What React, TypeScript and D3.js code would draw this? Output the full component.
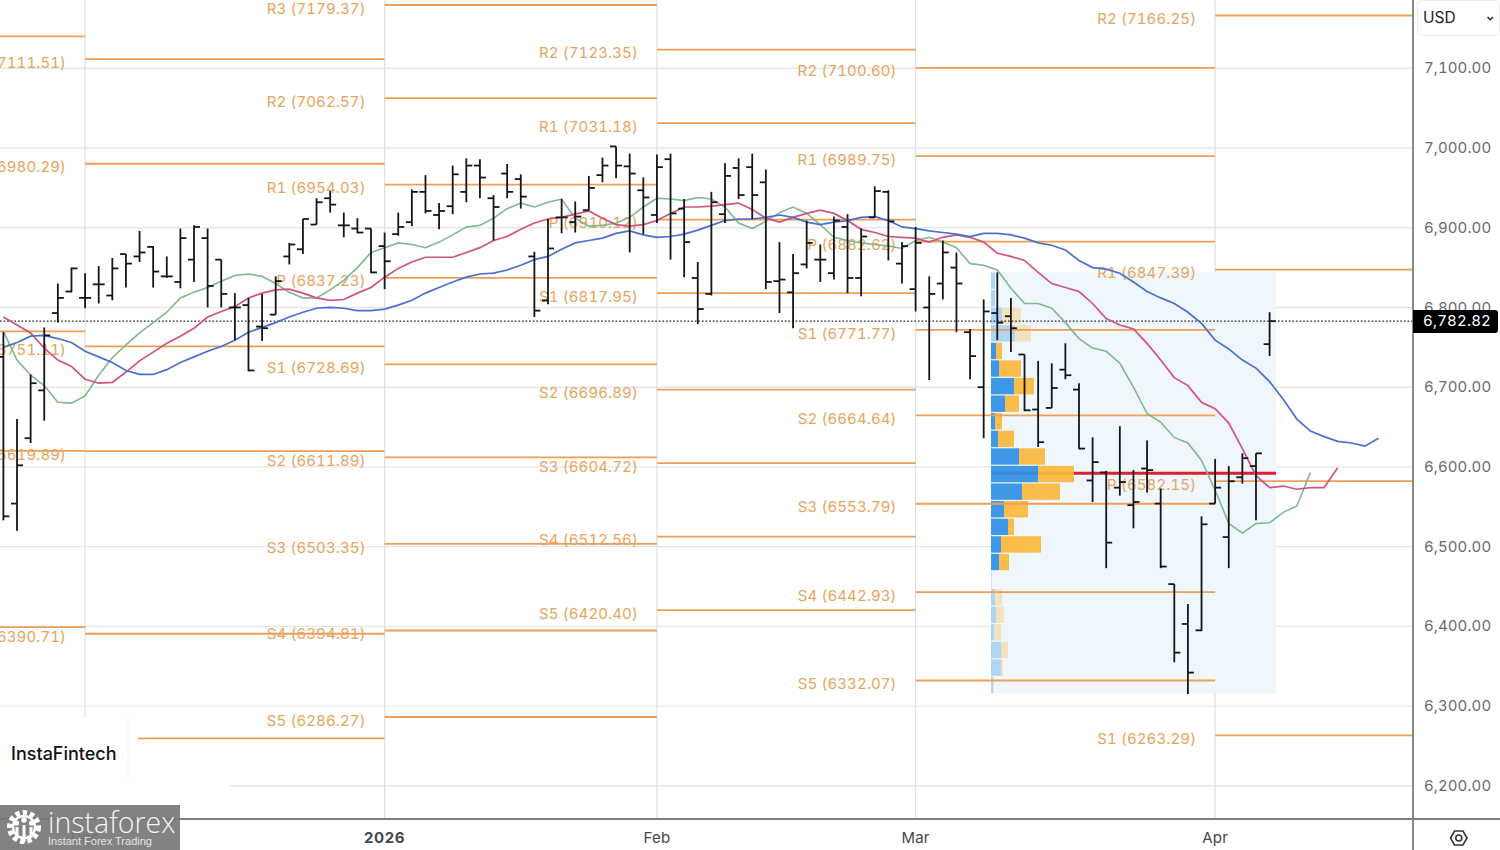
import * as d3 from "d3"

// OHLC, one entry per trading day
const highs = [6769,6660,6716,6775,6830,6850,6843,6852,6862,6867,6896,6877,6864,6899,6903,6899,6860,6818,6812,6817,6839,6881,6911,6937,6946,6919,6912,6899,6894,6919,6948,6966,6931,6978,6987,6986,6941,6980,6967,6870,6911,6936,6933,6965,6988,7002,6993,6963,6992,6993,6936,6857,6945,6981,6987,6993,6973,6882,6867,6909,6879,6914,6917,6899,6952,6947,6882,6901,6839,6884,6869,6773,6810,6844,6812,6741,6733,6730,6755,6705,6637,6595,6651,6596,6633,6573,6453,6428,6538,6610,6601,6617,6617,6794]
const lows = [6533,6520,6630,6658,6781,6819,6799,6805,6809,6825,6857,6825,6837,6824,6832,6800,6800,6759,6720,6758,6791,6854,6867,6904,6919,6888,6893,6843,6823,6890,6902,6918,6898,6917,6932,6937,6884,6937,6924,6788,6804,6893,6894,6922,6957,6962,6869,6892,6906,6860,6838,6779,6815,6906,6936,6911,6823,6793,6774,6849,6832,6835,6818,6814,6913,6859,6830,6795,6709,6810,6769,6710,6636,6759,6744,6670,6625,6674,6710,6622,6556,6473,6564,6523,6568,6473,6355,6315,6394,6554,6473,6579,6533,6739]
const opens = [6738,6554,6636,6696,6793,6820,6812,6829,6815,6867,6864,6876,6839,6832,6860,6887,6860,6800,6803,6776,6791,6864,6873,6904,6937,6903,6899,6899,6877,6892,6907,6945,6916,6927,6945,6978,6937,6968,6961,6864,6809,6913,6907,6922,6966,7002,6977,6947,6916,6986,6924,6837,6817,6917,6975,6976,6957,6833,6819,6854,6860,6843,6901,6837,6913,6945,6855,6823,6800,6830,6850,6769,6700,6793,6789,6741,6672,6674,6722,6697,6583,6593,6574,6552,6598,6554,6453,6403,6395,6554,6512,6587,6601,6754]
const closes = [6538,6602,6705,6765,6812,6849,6812,6829,6849,6855,6869,6845,6839,6887,6901,6827,6817,6800,6721,6774,6833,6879,6911,6932,6929,6903,6894,6844,6858,6901,6945,6921,6921,6967,6978,6963,6926,6945,6939,6796,6874,6913,6914,6950,6978,6978,6968,6938,6976,6918,6882,6798,6932,6965,6941,6941,6832,6835,6843,6881,6860,6909,6837,6889,6946,6908,6877,6881,6817,6869,6830,6739,6795,6781,6774,6671,6631,6699,6715,6623,6606,6505,6581,6556,6596,6475,6367,6342,6528,6574,6582,6611,6617,6782.82]

// moving averages, read per bar
const greenMa = [6770,6734,6715,6702,6681,6680,6689,6715,6737,6753,6768,6781,6794,6812,6819,6825,6833,6840,6842,6839,6830,6819,6812,6812,6822,6834,6850,6869,6875,6881,6879,6875,6882,6891,6901,6903,6912,6924,6931,6926,6932,6936,6912,6902,6903,6906,6913,6926,6937,6936,6934,6938,6936,6926,6906,6899,6908,6919,6926,6918,6904,6888,6884,6881,6879,6877,6874,6884,6888,6882,6875,6855,6853,6847,6824,6805,6805,6799,6781,6761,6749,6745,6730,6700,6667,6656,6637,6630,6608,6571,6529,6517,6529,6530,6543,6551,6593]
const redMa = [6788,6778,6768,6749,6734,6726,6710,6705,6706,6719,6733,6744,6755,6764,6774,6788,6795,6801,6812,6818,6822,6823,6818,6812,6809,6810,6818,6825,6838,6849,6857,6863,6863,6863,6869,6875,6884,6889,6898,6906,6911,6913,6917,6921,6912,6904,6902,6904,6909,6918,6926,6926,6927,6929,6931,6923,6912,6907,6913,6918,6922,6918,6909,6898,6894,6889,6888,6887,6882,6888,6891,6888,6882,6868,6864,6859,6844,6830,6825,6820,6805,6786,6778,6773,6755,6734,6712,6702,6681,6673,6655,6623,6589,6574,6576,6572,6574,6574,6599]
const blueMa = [6750,6756,6764,6765,6761,6756,6745,6738,6731,6721,6716,6716,6722,6731,6738,6745,6751,6759,6769,6775,6781,6788,6794,6799,6800,6799,6796,6796,6798,6803,6809,6818,6825,6832,6838,6842,6843,6847,6853,6860,6864,6873,6881,6884,6887,6893,6896,6891,6888,6889,6892,6897,6903,6909,6911,6911,6913,6916,6913,6907,6904,6907,6909,6913,6914,6909,6901,6899,6896,6894,6892,6889,6893,6893,6891,6887,6881,6878,6872,6859,6850,6848,6843,6832,6820,6812,6805,6794,6780,6759,6748,6734,6724,6707,6685,6660,6645,6638,6632,6630,6626,6636]

// monthly pivot levels
const novLevels = [7140, 6770, 6620, 6399]
const decLevels: [string, number][] = [["R2",7111.51],["R1",6980.29],["P",6751.11],["S1",6619.89],["S2",6390.71],["S3",6259.49]]
const janLevels: [string, number][] = [["R3",7179.37],["R2",7062.57],["R1",6954.03],["P",6837.23],["S1",6728.69],["S2",6611.89],["S3",6503.35],["S4",6394.81],["S5",6286.27]]
const febLevels: [string, number][] = [["R2",7123.35],["R1",7031.18],["P",6910.12],["S1",6817.95],["S2",6696.89],["S3",6604.72],["S4",6512.56],["S5",6420.40]]
const marLevels: [string, number][] = [["R2",7100.60],["R1",6989.75],["P",6882.62],["S1",6771.77],["S2",6664.64],["S3",6553.79],["S4",6442.93],["S5",6332.07]]
const aprLevels: [string, number][] = [["R2",7166.25],["R1",6847.39],["P",6582.15],["S1",6263.29]]

// volume profile, top row first
const profileTop = 6844
const profileBottom = 6316
const upVolume = [4,4,11,24,5,8,23,14,4,7,28,47,31,13,17,10,8,0.5,4,5,3,10,10,2]
const downVolume = [0,0,19,16,6,22,20,14,7,16,26,36,38,24,6,40,10,0,7,8,7,7,2,0.5]
const valueAreaRows = [4, 16]
const pocPrice = 6592

const priceTicks = [7100,7000,6900,6800,6700,6600,6500,6400,6300,6200]
const monthStarts = [6,28,48,67,89]
const monthLabels = ["Dec","2026","Feb","Mar","Apr"]
const lastPrice = 6782.82

const W = 1500
const H = 850
const axisX = 1413
const axisY = 819
const ORANGE = "#ef9f55"
const LABEL = "#e6a45c"
const FONT = "Inter, 'Liberation Sans', sans-serif"
const TNUM = { fontVariantNumeric: "tabular-nums" }

const y = d3.scaleLinear().domain([7100, 6200]).range([68.3, 785.8])
const x = d3.scaleLinear().domain([0, 100]).range([3.4, 1364.9])
const vol = d3.scaleLinear().domain([0, 100]).range([991, 1091])
const fmt = d3.format(",.2f")

const rows = d3.scaleBand<number>()
  .domain(d3.range(upVolume.length))
  .range([y(profileTop), y(profileBottom)])
  .paddingInner(0.07)

function maPath(values: number[]) {
  return d3.line<number>().x((_, i) => x(i)).y((d) => y(d))(values) ?? ""
}

function PivotSet({ levels, from, to }: { levels: [string, number][]; from: number; to: number }) {
  return (
    <g>
      {levels.map(([name, v]) => (
        <g key={name}>
          <line x1={from} x2={to} y1={y(v)} y2={y(v)} stroke={ORANGE} strokeWidth={1.8} />
          <text
            x={from - 19}
            y={y(v) + 4.5}
            textAnchor="end"
            dominantBaseline="middle"
            fontSize={15}
            letterSpacing={0.12}
            fill={LABEL}
            style={TNUM}
          >
            {name} ({v.toFixed(2)})
          </text>
        </g>
      ))}
    </g>
  )
}

export default function App() {
  const mx = monthStarts.map((i) => x(i))
  const periods: [[string, number][], number, number][] = [
    [decLevels, mx[0], mx[1]],
    [janLevels, mx[1], mx[2]],
    [febLevels, mx[2], mx[3]],
    [marLevels, mx[3], mx[4]],
    [aprLevels, mx[4], axisX],
  ]

  return (
    <svg
      width={W}
      height={H}
      viewBox={`0 0 ${W} ${H}`}
      fontFamily={FONT}
      style={{ position: "absolute", left: 0, top: 0, background: "#fff" }}
    >
      {/* grid */}
      {priceTicks.map((t) => (
        <line key={t} x1={0} x2={axisX} y1={y(t)} y2={y(t)} stroke="#e6e7ea" strokeWidth={1.4} />
      ))}
      {mx.map((m) => (
        <line key={m} x1={m} x2={m} y1={0} y2={axisY} stroke="#dfe0e4" strokeWidth={1.2} />
      ))}

      {/* volume profile */}
      <rect
        x={vol(0)}
        y={y(profileTop)}
        width={1276 - vol(0)}
        height={y(profileBottom) - y(profileTop)}
        fill="#eff6fc"
      />
      <line x1={vol(0)} x2={1276} y1={y(pocPrice)} y2={y(pocPrice)} stroke="#dc1f2e" strokeWidth={3} />
      {upVolume.map((u, i) => {
        const inside = i >= valueAreaRows[0] && i <= valueAreaRows[1]
        return (
          <g key={i} opacity={inside ? 0.92 : 0.32}>
            <rect x={vol(0)} y={rows(i)} width={vol(u) - vol(0)} height={rows.bandwidth()} fill="#2f8fe6" />
            <rect x={vol(u)} y={rows(i)} width={vol(u + downVolume[i]) - vol(u)} height={rows.bandwidth()} fill="#fbb93c" />
          </g>
        )
      })}

      {/* pivot levels */}
      {novLevels.map((v) => (
        <line key={v} x1={0} x2={mx[0]} y1={y(v)} y2={y(v)} stroke={ORANGE} strokeWidth={1.8} />
      ))}
      {periods.map(([levels, from, to]) => (
        <PivotSet key={from} levels={levels} from={from} to={to} />
      ))}

      {/* last price */}
      <line x1={0} x2={axisX} y1={y(lastPrice)} y2={y(lastPrice)} stroke="#222" strokeWidth={1.3} strokeDasharray="1.6 2" />

      {/* moving averages */}
      <path d={maPath(greenMa)} fill="none" stroke="#7fb88c" strokeWidth={1.6} />
      <path d={maPath(redMa)} fill="none" stroke="#d4527c" strokeWidth={1.7} />
      <path d={maPath(blueMa)} fill="none" stroke="#4a70cf" strokeWidth={1.7} />

      {/* bars */}
      <g stroke="#14161a" strokeWidth={1.8}>
        {highs.map((h, i) => (
          <g key={i}>
            <line x1={x(i)} x2={x(i)} y1={y(h)} y2={y(lows[i])} />
            <line x1={x(i) - 6} x2={x(i)} y1={y(opens[i])} y2={y(opens[i])} />
            <line x1={x(i)} x2={x(i) + 6} y1={y(closes[i])} y2={y(closes[i])} />
          </g>
        ))}
      </g>

      {/* logo panel */}
      <rect x={0} y={718} width={138} height={62} fill="#fff" />
      <line x1={128} x2={128} y1={718} y2={778} stroke="#f3f3f3" />
      <rect x={0} y={780} width={230} height={25} fill="#fff" />
      <text x={11} y={760} fontSize={18} fontWeight={500} fill="#111">InstaFintech</text>

      {/* axes */}
      <rect x={axisX} y={0} width={W - axisX} height={H} fill="#fff" />
      <rect x={0} y={axisY} width={axisX} height={H - axisY} fill="#fff" />
      <line x1={0} x2={W} y1={axisY} y2={axisY} stroke="#7c7e82" strokeWidth={1.8} />
      <line x1={axisX} x2={axisX} y1={0} y2={H} stroke="#7c7e82" strokeWidth={1.8} />
      {priceTicks.map((t) => (
        <text key={t} x={1424} y={y(t) + 1} dominantBaseline="middle" fontSize={15} letterSpacing={0.1} fill="#666a70" style={TNUM}>
          {fmt(t)}
        </text>
      ))}
      {monthLabels.map((m, i) => (
        <text
          key={m}
          x={mx[i]}
          y={839}
          textAnchor="middle"
          dominantBaseline="middle"
          fontSize={15}
          fontWeight={m === "2026" ? 700 : 400}
          letterSpacing={m === "2026" ? 0.6 : 0.2}
          fill="#44474c"
        >
          {m}
        </text>
      ))}

      {/* last price badge */}
      <path d={`M${axisX} 310 H1495 a3 3 0 0 1 3 3 V330 a3 3 0 0 1 -3 3 H${axisX} Z`} fill="#000" />
      <text x={1423} y={y(lastPrice) + 1} dominantBaseline="middle" fontSize={15} letterSpacing={0.2} fill="#fff" style={TNUM}>
        {fmt(lastPrice)}
      </text>

      {/* currency select */}
      <rect x={1417.5} y={0.5} width={82} height={35} rx={5} fill="#fff" stroke="#eceef1" />
      <text x={1423} y={19} dominantBaseline="middle" fontSize={15.5} fill="#222">USD</text>
      <path d="M1487.5 17 l2.7 2.7 l2.7 -2.7" fill="none" stroke="#222" strokeWidth={1.5} />

      {/* settings icon */}
      <path d="M1450.5 838 l4 -7 h8.5 l4 7 l-4 7 h-8.5 Z" fill="none" stroke="#333" strokeWidth={1.6} />
      <circle cx={1458.8} cy={838} r={3} fill="none" stroke="#333" strokeWidth={1.6} />

      {/* watermark */}
      <rect x={0} y={805} width={180} height={45} fill="#777" fillOpacity={0.92} />
      <circle cx={24} cy={827} r={14.5} fill="none" stroke="#fff" strokeWidth={5} strokeDasharray="4.4 3" />
      <circle cx={24} cy={827} r={11} fill="none" stroke="#fff" strokeWidth={2.4} />
      <circle cx={16.5} cy={823} r={2.6} fill="#fff" />
      <circle cx={24} cy={820} r={2.8} fill="#fff" />
      <circle cx={31.5} cy={823} r={2.6} fill="#fff" />
      <path d="M17 827 V838 M24 825 V842 M31 827 V838" stroke="#fff" strokeWidth={3} />
      <text x={48} y={833} fontFamily="'Open Sans', sans-serif" fontSize={28.5} fontWeight={300} fill="#f4f4f4">instaforex</text>
      <text x={48} y={845} fontFamily="'Liberation Sans', sans-serif" fontSize={11} fill="#e6e6e6">Instant Forex Trading</text>
    </svg>
  )
}
